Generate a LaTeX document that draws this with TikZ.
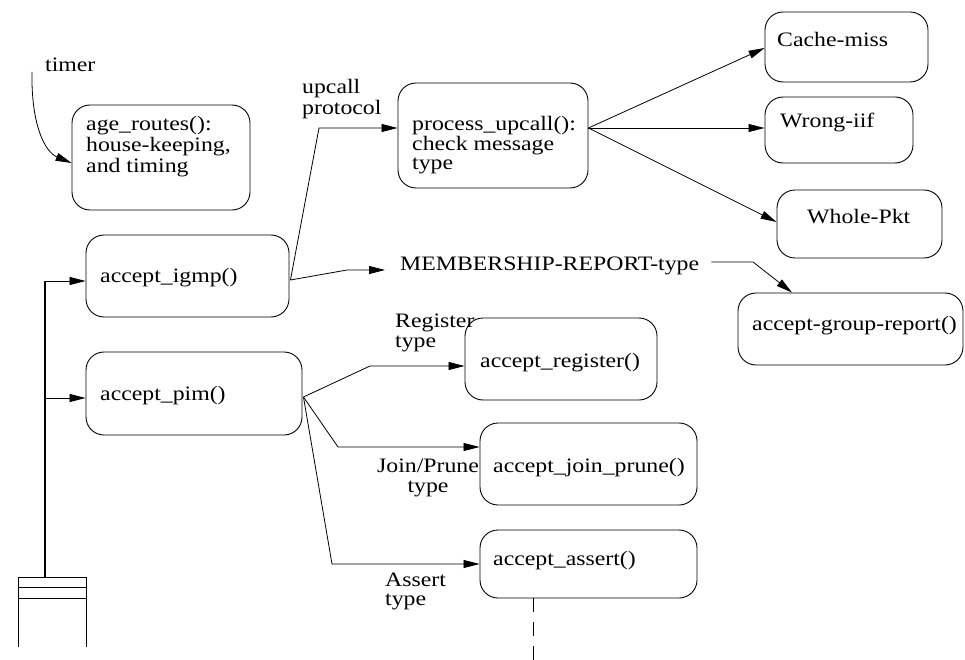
\documentclass[tikz,border=0pt]{standalone}
\usepackage{fontspec}
\setmainfont{Liberation Serif}[FakeStretch=1.16]
\usetikzlibrary{arrows.meta,calc}
\begin{document}
\begin{tikzpicture}[x=1pt,y=-1pt,
  box/.style={draw, line width=0.9pt, rounded corners=18pt, inner sep=0pt},
  txt/.style={inner sep=0pt, anchor=base west, align=left, font=\fontsize{20.5}{21}\selectfont},
  arr/.style={line width=0.8pt, -{Triangle[length=16pt,width=8pt]}},
  conn/.style={line width=0.8pt}]
\useasboundingbox[fill=white] (0,0) rectangle (965,660);

% boxes
\node[box, minimum width=178pt, minimum height=105pt] (age) at (161,157.5) {};
\node[box, minimum width=203pt, minimum height=82pt] (igmp) at (187.5,276) {};
\node[box, minimum width=216pt, minimum height=83pt] (pim) at (194,393.5) {};
\node[box, minimum width=190pt, minimum height=105pt] (upcall) at (493,135.5) {};
\node[box, minimum width=163pt, minimum height=70pt] (cache) at (846.5,47) {};
\node[box, minimum width=148pt, minimum height=66pt] (wrong) at (839,130) {};
\node[box, minimum width=165pt, minimum height=68pt] (whole) at (859.5,224) {};
\node[box, minimum width=225pt, minimum height=72pt] (group) at (850.5,329) {};
\node[box, minimum width=192pt, minimum height=82pt] (register) at (561,359) {};
\node[box, minimum width=217pt, minimum height=82pt] (join) at (588.5,464) {};
\node[box, minimum width=217pt, minimum height=68pt] (assert) at (588.5,564) {};

% box texts (multi-line nodes are placed by the baseline of their last line)
\node[txt] (agetxt) at (86,173) {age\_routes():\\house-keeping,\\and timing};
\node[txt] (igmptxt) at (100,282) {accept\_igmp()};
\node[txt] (pimtxt) at (100,400) {accept\_pim()};
\node[txt, font=\fontsize{20.5}{19.5}\selectfont] (upcalltxt) at (412,170) {process\_upcall():\\check message\\type};
\node[txt] (cachetxt) at (777,47) {Cache-miss};
\node[txt] (wrongtxt) at (780,128) {Wrong-iif};
\node[txt] (wholetxt) at (807,223) {Whole-Pkt};
\node[txt] (grouptxt) at (752,330) {accept-group-report()};
\node[txt] (registertxt) at (480,367) {accept\_register()};
\node[txt] (jointxt) at (493,472) {accept\_join\_prune()};
\node[txt] (asserttxt) at (493,565) {accept\_assert()};

% free labels
\node[txt] (timer) at (45,72) {timer};
\node[txt] (upproto) at (302,115) {upcall\\protocol};
\node[txt] (memb) at (400,270) {MEMBERSHIP-REPORT-type};
\node[txt, font=\fontsize{20.5}{20}\selectfont] (regtype) at (395,347) {Register\\type};
\node[txt, align=center, font=\fontsize{20.5}{20}\selectfont] (jptype) at (377,492) {Join/Prune\\type};
\node[txt, font=\fontsize{20.5}{19}\selectfont] (asserttype) at (385,605) {Assert\\type};

% timer
\coordinate (tstart) at (32,72);
\draw[arr] (tstart) .. controls (31,125) and (45,152) .. ($(age.west)+(0,5.5)$);

% bus
\coordinate (bustop) at (45,281);
\coordinate (busmid) at (45,398);
\coordinate (busbot) at (45,577);
\draw[line width=1.8pt] (bustop) -- (busbot);
\draw[arr] (bustop) -- (bustop -| igmp.west);
\draw[arr] (busmid) -- (busmid -| pim.west);

% queue
\draw[line width=0.9pt] (18,647) -- (18,577) -- (86,577) -- (86,647);
\draw[line width=0.9pt] (18,587) -- (86,587);
\draw[line width=0.9pt] (18,598) -- (86,598);

% igmp outputs
\coordinate (igout) at ($(igmp.east)+(1,4)$);
\draw[arr] (igout) -- (319,128) -- ($(upcall.west)+(0,-7.5)$);
\draw[arr] (igout) -- (347,270) -- ($(memb.base west)+(-15,0)$);
\draw[arr] ($(memb.base east)+(12,-8)$) -- (753,262) -- ($(group.north)+(-58.5,0)$);

% upcall fan
\coordinate (upout) at ($(upcall.east)+(0,-7.5)$);
\draw[arr] (upout) -- ($(cache.west)+(0,1)$);
\draw[arr] (upout) -- (upout -| wrong.west);
\draw[arr] (upout) -- ($(whole.west)+(0,-2)$);

% pim fan
\coordinate (pimout) at ($(pim.east)+(1,3.5)$);
\draw[arr] (pimout) -- (370,366) -- ($(register.west)+(0,7)$);
\draw[arr] (pimout) -- (338,447) -- ($(join.west)+(0,-17)$);
\draw[arr] (pimout) -- (332,564) -- (assert.west);

% dashed continuation
\coordinate (dashend) at (533,660);
\draw[conn, dash pattern=on 14pt off 10pt] ($(assert.south)+(-55.5,0)$) -- (dashend);
\end{tikzpicture}
\end{document}
